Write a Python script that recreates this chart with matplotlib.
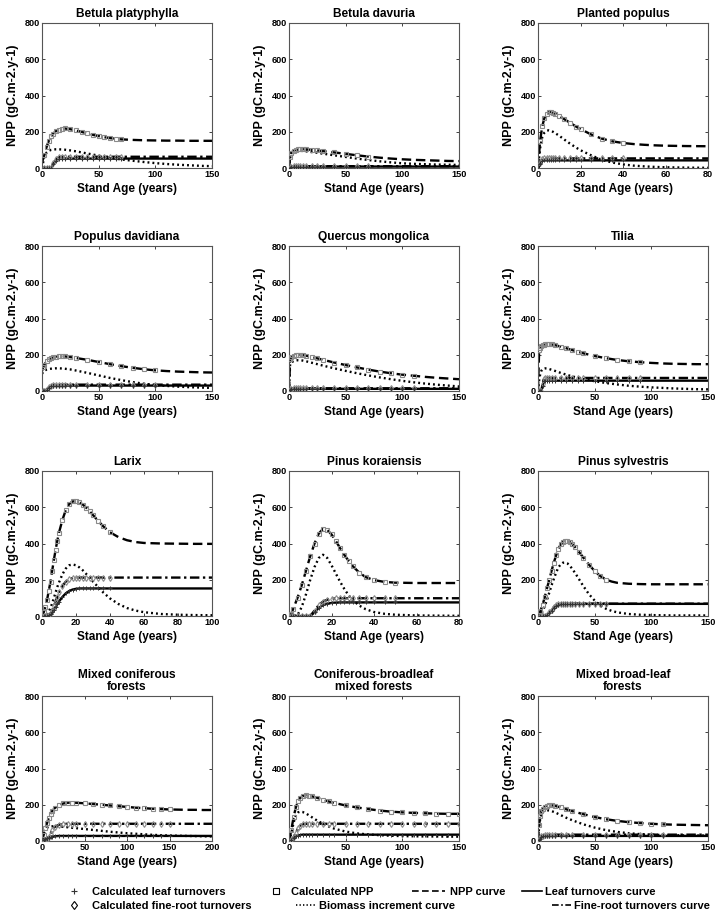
import matplotlib
matplotlib.use("Agg")
import matplotlib.pyplot as plt
from matplotlib.lines import Line2D
from matplotlib import font_manager

# ---------------- data ----------------
titles = ["Betula platyphylla", "Betula davuria", "Planted populus",
          "Populus davidiana", "Quercus mongolica", "Tilia",
          "Larix", "Pinus koraiensis", "Pinus sylvestris",
          "Mixed coniferous\nforests", "Coniferous-broadleaf\nmixed forests",
          "Mixed broad-leaf\nforests"]
x_max = [150, 150, 80, 150, 150, 150, 100, 80, 150, 200, 150, 150]
marker_limit = [70, 70, 40, 100, 110, 90, 40, 50, 60, 150, 150, 110]
y_ticks = [0, 200, 400, 600, 800]

# Betula platyphylla
bp_age = [0, 2, 4, 6, 8, 10, 12, 15, 18, 20, 25, 30, 35, 40, 45, 50, 55, 60, 65, 70, 80, 90, 100, 110, 120, 130, 140, 150]
bp_npp = [30, 70, 115, 150, 175, 190, 202, 212, 217, 218, 214, 207, 199, 191, 183, 176, 170, 165, 161, 158, 155, 153, 152, 151, 151, 150, 150, 150]
bp_bio = [0, 60, 85, 95, 100, 102, 103, 103, 102, 101, 97, 92, 86, 80, 74, 68, 62, 57, 52, 47, 40, 33, 27, 22, 18, 15, 12, 10]
bp_leaf = [0, 0, 0, 0, 0, 20, 40, 50, 52, 52, 52, 52, 52, 52, 52, 52, 52, 52, 52, 52, 52, 52, 52, 52, 52, 52, 52, 52]
bp_root = [0, 0, 0, 0, 0, 25, 48, 60, 62, 62, 62, 62, 62, 62, 62, 62, 62, 62, 62, 62, 62, 62, 62, 62, 62, 62, 62, 62]

# Betula davuria
bd_age = [0, 1, 2, 4, 6, 8, 10, 12, 15, 20, 25, 30, 40, 50, 60, 70, 80, 90, 100, 110, 120, 130, 140, 150]
bd_npp = [0, 60, 85, 95, 100, 103, 104, 104, 103, 100, 97, 93, 86, 78, 70, 63, 57, 52, 48, 45, 43, 41, 39, 38]
bd_bio = [0, 55, 80, 88, 92, 94, 95, 94, 92, 88, 84, 79, 70, 61, 52, 44, 37, 31, 26, 23, 21, 19, 18, 17]
bd_leaf = [0, 0, 3, 7, 8, 8, 8, 8, 8, 8, 8, 8, 8, 8, 8, 8, 8, 8, 8, 8, 8, 8, 8, 8]
bd_root = [0, 0, 4, 9, 10, 10, 10, 10, 10, 10, 10, 10, 10, 10, 10, 10, 10, 10, 10, 10, 10, 10, 10, 10]

# Planted populus
pp_age = [0, 1, 2, 3, 4, 5, 6, 7, 8, 10, 12, 15, 18, 20, 25, 30, 35, 40, 45, 50, 55, 60, 70, 80]
pp_npp = [0, 150, 230, 275, 298, 307, 309, 306, 300, 288, 272, 250, 228, 215, 185, 162, 147, 138, 132, 128, 125, 123, 121, 120]
pp_bio = [0, 110, 170, 195, 205, 208, 205, 200, 193, 178, 160, 135, 112, 98, 70, 45, 30, 20, 13, 9, 6, 4, 2, 1]
pp_leaf = [0, 20, 40, 42, 42, 42, 42, 42, 42, 42, 42, 42, 42, 42, 42, 42, 42, 42, 42, 42, 42, 42, 42, 42]
pp_root = [0, 25, 50, 53, 53, 53, 53, 53, 53, 53, 53, 53, 53, 53, 53, 53, 53, 53, 53, 53, 53, 53, 53, 53]

# Populus davidiana
pd_age = [0, 1, 2, 4, 6, 8, 10, 12, 15, 18, 20, 25, 30, 40, 50, 60, 70, 80, 90, 100, 110, 120, 130, 140, 150]
pd_npp = [110, 130, 145, 163, 175, 182, 187, 190, 192, 192, 191, 187, 182, 172, 160, 148, 137, 128, 120, 114, 110, 107, 105, 103, 102]
pd_bio = [95, 105, 112, 118, 121, 123, 124, 125, 125, 124, 123, 119, 113, 100, 86, 72, 60, 49, 40, 33, 28, 24, 21, 19, 17]
pd_leaf = [0, 0, 0, 5, 15, 25, 28, 29, 30, 30, 30, 30, 30, 30, 30, 30, 30, 30, 30, 30, 30, 30, 30, 30, 30]
pd_root = [0, 0, 0, 8, 20, 30, 34, 35, 35, 35, 35, 35, 35, 35, 35, 35, 35, 35, 35, 35, 35, 35, 35, 35, 35]

# Quercus mongolica
qm_age = [0, 1, 2, 4, 6, 8, 10, 12, 15, 20, 25, 30, 40, 50, 60, 70, 80, 90, 100, 110, 120, 130, 140, 150]
qm_npp = [0, 175, 185, 192, 196, 198, 199, 198, 195, 188, 180, 172, 157, 143, 130, 118, 107, 98, 90, 84, 78, 73, 69, 65]
qm_bio = [0, 150, 158, 165, 168, 170, 170, 168, 164, 156, 148, 140, 125, 111, 98, 86, 75, 65, 56, 48, 41, 35, 30, 25]
qm_leaf = [0, 5, 10, 12, 12, 12, 12, 12, 12, 12, 12, 12, 12, 12, 12, 12, 12, 12, 12, 12, 12, 12, 12, 12]
qm_root = [0, 6, 13, 15, 15, 15, 15, 15, 15, 15, 15, 15, 15, 15, 15, 15, 15, 15, 15, 15, 15, 15, 15, 15]

# Tilia
ti_age = [0, 1, 2, 3, 4, 5, 6, 8, 10, 12, 15, 20, 25, 30, 35, 40, 50, 60, 70, 80, 90, 100, 110, 120, 130, 140, 150]
ti_npp = [0, 225, 240, 248, 253, 256, 258, 260, 259, 257, 253, 245, 236, 226, 217, 208, 193, 181, 171, 164, 159, 155, 152, 150, 149, 148, 148]
ti_bio = [0, 60, 95, 112, 120, 124, 125, 124, 121, 117, 111, 100, 90, 81, 73, 66, 54, 44, 36, 29, 24, 20, 17, 14, 12, 10, 9]
ti_leaf = [0, 0, 0, 0, 30, 55, 57, 57, 57, 57, 57, 57, 57, 57, 57, 57, 57, 57, 57, 57, 57, 57, 57, 57, 57, 57, 57]
ti_root = [0, 0, 0, 0, 40, 68, 72, 72, 72, 72, 72, 72, 72, 72, 72, 72, 72, 72, 72, 72, 72, 72, 72, 72, 72, 72, 72]

# Larix
lx_age = [0, 1, 2, 3, 4, 5, 6, 7, 8, 9, 10, 12, 14, 16, 18, 20, 22, 24, 26, 28, 30, 33, 36, 40, 45, 50, 55, 60, 70, 80, 90, 100]
lx_npp = [0, 20, 50, 90, 140, 190, 250, 310, 365, 415, 460, 530, 585, 618, 632, 633, 627, 615, 598, 578, 557, 525, 495, 462, 435, 418, 408, 403, 400, 399, 398, 398]
lx_bio = [0, 0, 3, 10, 25, 45, 70, 100, 130, 160, 185, 230, 262, 280, 284, 280, 268, 252, 232, 212, 190, 160, 130, 97, 66, 44, 30, 21, 11, 7, 5, 4]
lx_leaf = [0, 0, 0, 0, 3, 10, 20, 35, 50, 65, 80, 105, 125, 138, 146, 150, 152, 152, 152, 152, 152, 152, 152, 152, 152, 152, 152, 152, 152, 152, 152, 152]
lx_root = [0, 0, 0, 0, 5, 15, 30, 55, 80, 105, 130, 165, 190, 203, 209, 211, 212, 212, 212, 212, 212, 212, 212, 212, 212, 212, 212, 212, 212, 212, 212, 212]

# Pinus koraiensis
pk_age = [0, 1, 2, 4, 6, 8, 10, 12, 14, 16, 18, 20, 22, 24, 26, 28, 30, 33, 36, 40, 45, 50, 60, 70, 80]
pk_npp = [0, 10, 40, 100, 170, 250, 330, 400, 455, 480, 475, 450, 415, 375, 338, 305, 275, 240, 215, 198, 188, 184, 182, 182, 182]
pk_bio = [0, 0, 0, 5, 50, 120, 200, 270, 320, 338, 320, 280, 235, 190, 150, 115, 88, 58, 38, 22, 12, 7, 3, 2, 1]
pk_leaf = [0, 0, 0, 0, 0, 0, 0, 20, 45, 60, 68, 72, 74, 75, 75, 75, 75, 75, 75, 75, 75, 75, 75, 75, 75]
pk_root = [0, 0, 0, 0, 0, 0, 0, 30, 60, 80, 90, 95, 97, 98, 98, 98, 98, 98, 98, 98, 98, 98, 98, 98, 98]

# Pinus sylvestris
ps_age = [0, 2, 4, 6, 8, 10, 12, 14, 16, 18, 20, 22, 24, 26, 28, 30, 33, 36, 40, 45, 50, 55, 60, 65, 70, 80, 90, 100, 110, 120, 130, 140, 150]
ps_npp = [0, 25, 60, 105, 155, 200, 250, 295, 335, 370, 395, 410, 416, 414, 408, 398, 378, 355, 322, 283, 248, 220, 201, 190, 183, 178, 176, 175, 175, 175, 175, 175, 175]
ps_bio = [0, 5, 25, 55, 90, 130, 170, 205, 240, 268, 285, 294, 295, 290, 278, 262, 235, 205, 165, 120, 85, 58, 40, 28, 20, 11, 7, 5, 4, 3, 3, 3, 3]
ps_leaf = [0, 0, 0, 0, 5, 15, 30, 45, 55, 61, 64, 66, 67, 67, 67, 67, 67, 67, 67, 67, 67, 67, 67, 67, 67, 67, 67, 67, 67, 67, 67, 67, 67]
ps_root = [0, 0, 0, 0, 8, 20, 35, 50, 60, 65, 67, 68, 68, 68, 68, 68, 68, 68, 68, 68, 68, 68, 68, 68, 68, 68, 68, 68, 68, 68, 68, 68, 68]

# Mixed coniferous forests
mc_age = [0, 2, 4, 6, 8, 10, 12, 15, 20, 25, 30, 35, 40, 50, 60, 70, 80, 90, 100, 110, 120, 130, 140, 150, 160, 170, 180, 190, 200]
mc_npp = [0, 35, 70, 100, 128, 150, 165, 182, 198, 207, 211, 212, 211, 208, 204, 200, 196, 192, 188, 184, 181, 178, 176, 174, 173, 172, 172, 171, 171]
mc_bio = [0, 60, 68, 74, 78, 80, 81, 81, 80, 78, 76, 73, 71, 66, 61, 56, 51, 47, 43, 40, 37, 34, 32, 30, 29, 28, 27, 26, 25]
mc_leaf = [0, 5, 10, 15, 19, 22, 24, 26, 28, 28, 28, 28, 28, 28, 28, 28, 28, 28, 28, 28, 28, 28, 28, 28, 28, 28, 28, 28, 28]
mc_root = [0, 0, 0, 5, 20, 40, 60, 78, 90, 94, 95, 95, 95, 95, 95, 95, 95, 95, 95, 95, 95, 95, 95, 95, 95, 95, 95, 95, 95]

# Coniferous-broadleaf mixed forests
cb_age = [0, 2, 4, 6, 8, 10, 12, 15, 18, 20, 25, 30, 35, 40, 50, 60, 70, 80, 90, 100, 110, 120, 130, 140, 150]
cb_npp = [0, 60, 130, 185, 220, 240, 248, 252, 250, 247, 238, 228, 218, 210, 196, 185, 176, 168, 162, 158, 155, 153, 151, 150, 150]
cb_bio = [0, 40, 100, 140, 158, 162, 160, 152, 140, 132, 112, 95, 80, 68, 52, 42, 36, 32, 29, 27, 26, 25, 25, 24, 24]
cb_leaf = [0, 5, 15, 25, 30, 33, 35, 35, 35, 35, 35, 35, 35, 35, 35, 35, 35, 35, 35, 35, 35, 35, 35, 35, 35]
cb_root = [0, 5, 20, 45, 70, 85, 92, 95, 95, 95, 95, 95, 95, 95, 95, 95, 95, 95, 95, 95, 95, 95, 95, 95, 95]

# Mixed broad-leaf forests
mb_age = [0, 1, 2, 3, 4, 6, 8, 10, 12, 15, 20, 25, 30, 40, 50, 60, 70, 80, 90, 100, 110, 120, 130, 140, 150]
mb_npp = [0, 90, 140, 165, 178, 190, 195, 197, 197, 194, 185, 175, 165, 148, 132, 120, 111, 104, 99, 95, 92, 90, 89, 88, 87]
mb_bio = [0, 80, 125, 150, 160, 168, 170, 168, 165, 158, 143, 128, 115, 92, 74, 60, 50, 43, 38, 35, 33, 32, 31, 30, 30]
mb_leaf = [0, 5, 12, 20, 25, 27, 28, 28, 28, 28, 28, 28, 28, 28, 28, 28, 28, 28, 28, 28, 28, 28, 28, 28, 28]
mb_root = [0, 6, 15, 25, 30, 34, 35, 35, 35, 35, 35, 35, 35, 35, 35, 35, 35, 35, 35, 35, 35, 35, 35, 35, 35]

series = [
    (bp_age, bp_npp, bp_leaf, bp_bio, bp_root),
    (bd_age, bd_npp, bd_leaf, bd_bio, bd_root),
    (pp_age, pp_npp, pp_leaf, pp_bio, pp_root),
    (pd_age, pd_npp, pd_leaf, pd_bio, pd_root),
    (qm_age, qm_npp, qm_leaf, qm_bio, qm_root),
    (ti_age, ti_npp, ti_leaf, ti_bio, ti_root),
    (lx_age, lx_npp, lx_leaf, lx_bio, lx_root),
    (pk_age, pk_npp, pk_leaf, pk_bio, pk_root),
    (ps_age, ps_npp, ps_leaf, ps_bio, ps_root),
    (mc_age, mc_npp, mc_leaf, mc_bio, mc_root),
    (cb_age, cb_npp, cb_leaf, cb_bio, cb_root),
    (mb_age, mb_npp, mb_leaf, mb_bio, mb_root),
]

legend_labels = ["Calculated leaf turnovers", "Calculated fine-root turnovers",
                 "Calculated NPP", "Biomass increment curve", "NPP curve",
                 "Leaf turnovers curve", "Fine-root turnovers curve"]

# ---------------- style ----------------
avail = {f.name for f in font_manager.fontManager.ttflist}
NARROW = "Liberation Sans Narrow" in avail
FONT = "Liberation Sans Narrow" if NARROW else "Liberation Sans"
K = 1.15 if NARROW else 1.0
plt.rcParams["font.family"] = [FONT, "DejaVu Sans"]
plt.rcParams["font.weight"] = "bold"
plt.rcParams["axes.titleweight"] = "bold"
plt.rcParams["axes.labelweight"] = "bold"

W, H = 723, 923
fig = plt.figure(figsize=(W / 100, H / 100), dpi=100)

col_left = [42, 289, 538]
row_bottom = [168, 391, 616, 841]
ax_w, ax_h = 170, 145

LW = 1.7
DASH = (0, (4, 2))
DOT = (0, (0.8, 1.3))
DASHDOT = (0, (4, 1.5, 1, 1.5))
GRAY = "#8a8a8a"

for i, (ttl, xm, ml, (age, npp, leaf, bio, root)) in enumerate(zip(titles, x_max, marker_limit, series)):
    r, c = divmod(i, 3)
    ax = fig.add_axes([col_left[c] / W, 1 - row_bottom[r] / H, ax_w / W, ax_h / H])
    ax.plot(age, bio, color="black", lw=LW, linestyle=DOT, zorder=2)
    ax.plot(age, root, color="black", lw=LW, linestyle=DASHDOT, zorder=2)
    ax.plot(age, leaf, color="black", lw=LW, linestyle="-", zorder=2)
    ax.plot(age, npp, color="black", lw=LW, linestyle=DASH, zorder=2)
    m_age = [a for a in age if 0 < a <= ml]
    m_npp = [v for a, v in zip(age, npp) if 0 < a <= ml]
    m_leaf = [v for a, v in zip(age, leaf) if 0 < a <= ml]
    m_root = [v for a, v in zip(age, root) if 0 < a <= ml]
    ax.plot(m_age, m_npp, linestyle="none", marker="s", ms=3.0, mfc="none", mec=GRAY, mew=0.8, zorder=3)
    ax.plot(m_age, m_root, linestyle="none", marker="d", ms=3.0, mfc="none", mec=GRAY, mew=0.8, zorder=3)
    ax.plot(m_age, m_leaf, linestyle="none", marker="+", ms=3.5, color="#333333", mew=0.7, zorder=3)

    ax.set_xlim(0, xm)
    ax.set_ylim(0, 800)
    ax.set_yticks(y_ticks)
    if xm == 150:
        ax.set_xticks([0, 50, 100, 150])
    elif xm == 200:
        ax.set_xticks([0, 50, 100, 150, 200])
    else:
        ax.set_xticks(list(range(0, xm + 1, 20)))
    ax.tick_params(direction="in", length=2.5, width=0.6, top=True, right=True,
                   labelsize=6.6 * K, pad=1.5, colors="#222222", labelcolor="black")
    for s in ax.spines.values():
        s.set_color("#555555")
        s.set_linewidth(0.8)
    ax.set_title(ttl, fontsize=8.6 * K, pad=4, linespacing=1.0)
    ax.set_xlabel("Stand Age (years)", fontsize=8.5 * K, labelpad=3)
    ax.set_ylabel("NPP (gC.m-2.y-1)", fontsize=9.0 * K, labelpad=4)

# ---------------- legend ----------------
LFS = 8.0 * K
handles = [
    Line2D([], [], linestyle="none", marker="+", ms=5, color="#333333", mew=0.8),
    Line2D([], [], linestyle="none", marker="d", ms=4.5, mfc="none", mec="black", mew=0.8),
    Line2D([], [], linestyle="none", marker="s", ms=4, mfc="none", mec="black", mew=0.8),
    Line2D([], [], color="black", lw=1.2, linestyle=DOT),
    Line2D([], [], color="black", lw=1.2, linestyle=DASH),
    Line2D([], [], color="black", lw=1.2, linestyle="-"),
    Line2D([], [], color="black", lw=1.2, linestyle=DASHDOT),
]
# (x of handle start px, y px, handle length px, text pad px)
leg_pos = [(68, 892, 12, 12), (68, 906, 12, 12), (270, 892, 12, 9), (296, 906, 19, 4),
           (412, 892, 33, 5), (522, 892, 20, 3), (552, 906, 19, 3)]
em = LFS * 100 / 72.0
for h, lab, (lx, ly, hl, tp) in zip(handles, legend_labels, leg_pos):
    fig.legend(handles=[h], labels=[lab], loc="center left",
               bbox_to_anchor=(lx / W, 1 - ly / H), frameon=False,
               fontsize=LFS, handlelength=hl / em, handletextpad=tp / em,
               borderpad=0, borderaxespad=0)

fig.savefig("out.png", dpi=100)
